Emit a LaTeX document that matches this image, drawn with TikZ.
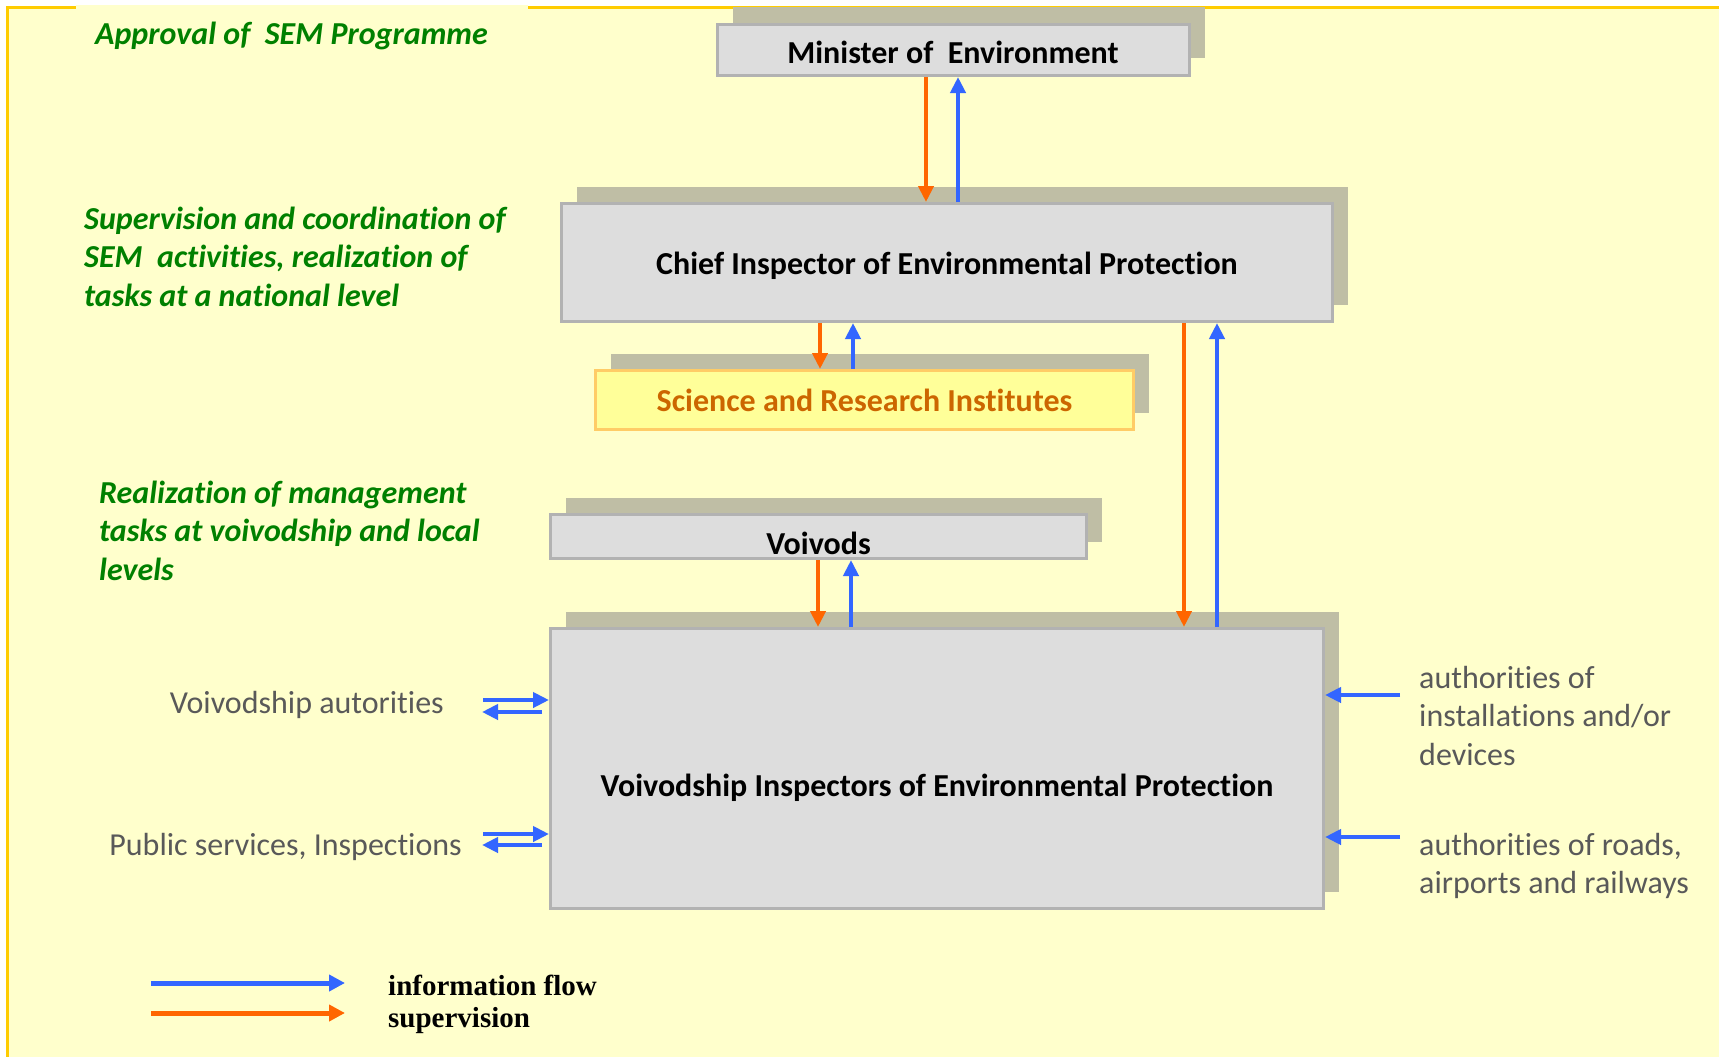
\documentclass[tikz,border=0pt]{standalone}
\usepackage{fontspec}
\setmainfont[Ligatures=NoCommon]{Carlito}
\newfontfamily\legendfont{Liberation Serif}
\usetikzlibrary{arrows.meta,shadows}

\definecolor{bgc}{HTML}{FFFFCC}
\definecolor{bordc}{HTML}{FFCC00}
\definecolor{boxc}{HTML}{DDDDDD}
\definecolor{boxline}{HTML}{B2B2B2}
\definecolor{shadc}{HTML}{BFBEA5}
\definecolor{orc}{HTML}{FF6600}
\definecolor{blc}{HTML}{3366FF}
\definecolor{grc}{HTML}{008000}
\definecolor{grayc}{HTML}{595959}
\definecolor{scifill}{HTML}{FFFF99}
\definecolor{sciline}{HTML}{FFCC66}
\definecolor{scitext}{HTML}{CC6600}

\begin{document}
\begin{tikzpicture}[x=1pt,y=-1pt,
  shad/.style={drop shadow={shadow xshift=15pt, shadow yshift=17pt, opacity=1, fill=shadc}},
  box/.style={shad, draw=boxline, fill=boxc, line width=3pt, inner sep=0pt},
  scibox/.style={shad, draw=sciline, fill=scifill, line width=3pt, inner sep=0pt},
  boxtext/.style={inner sep=0pt, font=\fontsize{32}{36}\selectfont\bfseries, text=black},
  greenlbl/.style={inner sep=0pt, align=left, text=grc,
    font=\fontsize{32}{38.3}\selectfont\bfseries\itshape},
  graylbl/.style={inner sep=0pt, align=left, text=grayc,
    font=\fontsize{32}{38.5}\selectfont},
  legtxt/.style={inner sep=0pt, text=black, font=\fontsize{29}{32}\legendfont\bfseries},
  sup/.style={draw=orc, line width=4.5pt, -{Triangle[length=16pt,width=15pt]}},
  info/.style={draw=blc, line width=4.5pt, -{Triangle[length=16pt,width=15pt]}},
  legarrow/.style={line width=5pt, -{Triangle[length=16pt,width=16pt]}}
]
\useasboundingbox (0,0) rectangle (1719,1057);
% background
\fill[bgc] (7,8) rectangle (1725,1065);
\draw[bordc, line width=3pt] (7,1065) -- (7,8) -- (1725,8);
\fill[bgc] (76,5) rectangle (528,60);

% boxes
\node[box, minimum width=472pt, minimum height=51pt] (min) at (953.5,50) {};
\node[boxtext] (mintxt) at (953,52) {Minister of~~Environment};
\node[box, minimum width=771pt, minimum height=118pt] (chief) at (947,262.5) {};
\node[boxtext] (chieftxt) at (947,266) {Chief Inspector of Environmental Protection};
\node[scibox, minimum width=538pt, minimum height=59pt] (sci) at (864.5,400) {};
\node[boxtext, text=scitext] (scitxt) at (864.5,400) {Science and Research Institutes};
\node[box, minimum width=536pt, minimum height=44pt] (voi) at (818.5,536.5) {};
\node[boxtext] (voitxt) at (818.5,543) {Voivods};
\node[box, minimum width=773pt, minimum height=280pt] (vip) at (937,768.5) {};
\node[boxtext] (viptxt) at (937,788) {Voivodship Inspectors of Environmental Protection};

% green labels
\node[greenlbl, anchor=base west] (lab1) at (95,45) {Approval of~~SEM Programme};
\node[greenlbl, anchor=north west] (lab2) at (84,207) {Supervision and coordination of\\SEM~~activities, realization of\\tasks at a national level};
\node[greenlbl, anchor=north west] (lab3) at (99,481) {Realization of management\\tasks at voivodship and local\\levels};

% gray labels
\node[graylbl, anchor=base east] (gl1) at (444,713) {Voivodship autorities};
\node[graylbl, anchor=base east] (gl2) at (462,855) {Public services, Inspections};
\node[graylbl, anchor=north west] (gr1) at (1419,666) {authorities of\\installations and/or\\devices};
\node[graylbl, anchor=north west] (gr2) at (1419,833) {authorities of roads,\\airports and railways};

% vertical connectors
\coordinate (xa) at (926,0);  \coordinate (xb) at (958,0);
\coordinate (xc) at (820,0);  \coordinate (xd) at (853,0);
\coordinate (xe) at (1184,0); \coordinate (xf) at (1217,0);
\coordinate (xg) at (818,0);  \coordinate (xh) at (851,0);
\draw[sup]  (min.south -| xa) -- (chief.north -| xa);
\draw[info] (chief.north -| xb) -- (min.south -| xb);
\draw[sup]  (chief.south -| xc) -- (sci.north -| xc);
\draw[info] (sci.north -| xd) -- (chief.south -| xd);
\draw[sup]  (chief.south -| xe) -- (vip.north -| xe);
\draw[info] (vip.north -| xf) -- (chief.south -| xf);
\draw[sup]  (voi.south -| xg) -- (vip.north -| xg);
\draw[info] (vip.north -| xh) -- (voi.south -| xh);

% left double arrows
\coordinate (la1) at (483,700); \coordinate (la2) at (482,712);
\coordinate (lb1) at (483,834); \coordinate (lb2) at (482,845);
\draw[info] (la1) -- (vip.west |- la1);
\draw[info] ([xshift=-7pt]vip.west |- la2) -- (la2);
\draw[info] (lb1) -- (vip.west |- lb1);
\draw[info] ([xshift=-7pt]vip.west |- lb2) -- (lb2);

% right arrows
\coordinate (ra1) at (1400,695); \coordinate (ra2) at (1400,837);
\draw[info] (ra1) -- (vip.east |- ra1);
\draw[info] (ra2) -- (vip.east |- ra2);

% legend
\coordinate (lg1s) at (151,983); \coordinate (lg1e) at (345,983);
\coordinate (lg2s) at (151,1013); \coordinate (lg2e) at (345,1013);
\draw[legarrow, blc] (lg1s) -- (lg1e);
\draw[legarrow, orc] (lg2s) -- (lg2e);
\node[legtxt, anchor=base west] (lgt1) at (388,995) {information flow};
\node[legtxt, anchor=base west] (lgt2) at (388,1027) {supervision};
\end{tikzpicture}
\end{document}
